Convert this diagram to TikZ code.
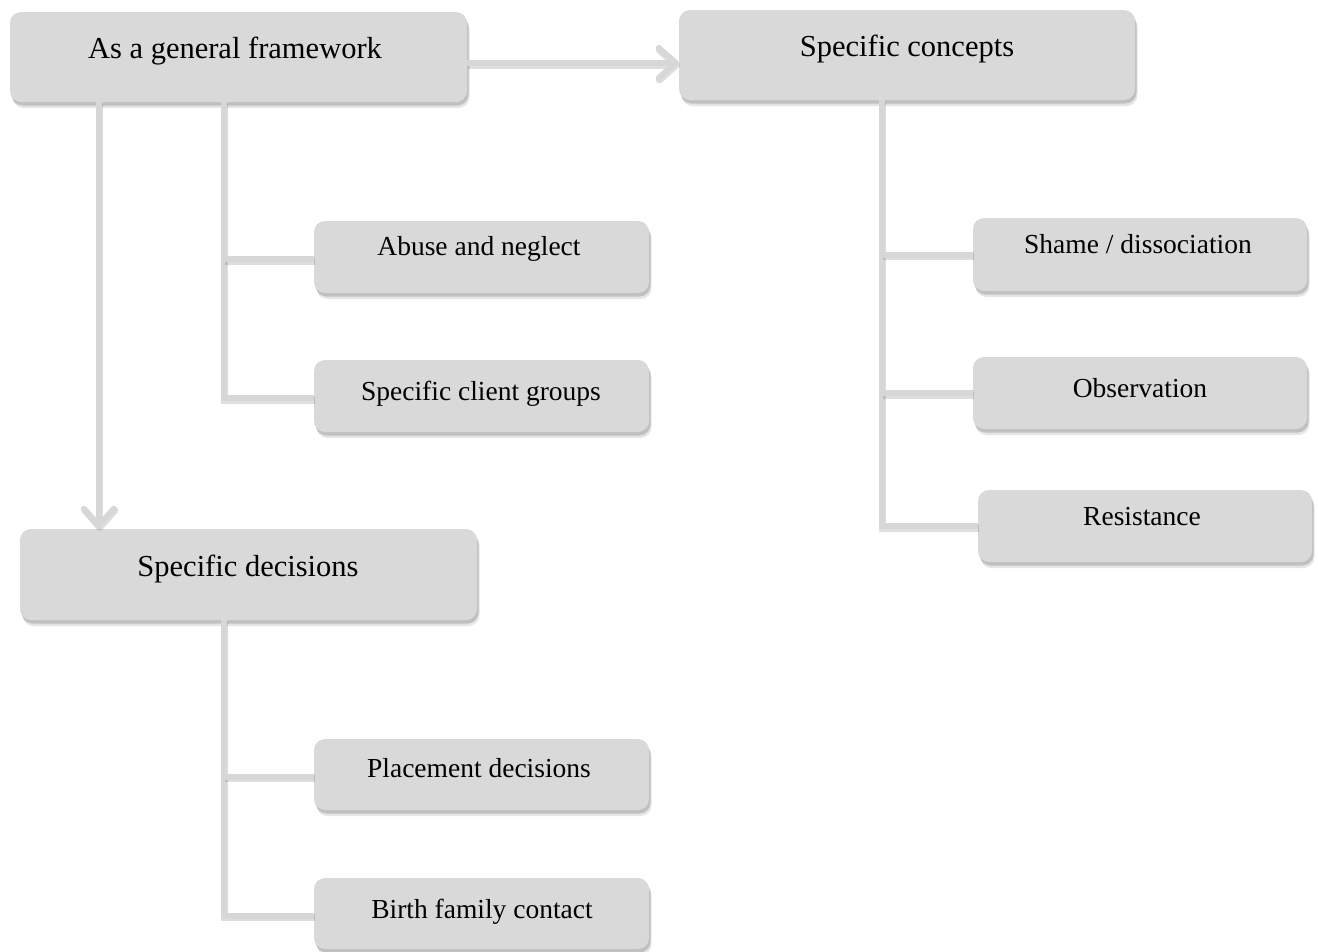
\documentclass[tikz,border=0pt]{standalone}
\usepackage{fontspec}
\setmainfont{Liberation Serif}
\usetikzlibrary{arrows.meta,shadows}
\definecolor{boxgray}{HTML}{D9D9D9}
\definecolor{linegray}{HTML}{D7D7D7}
\tikzset{
  box/.style={rounded corners=11pt, fill=boxgray, draw=none, inner sep=0pt,
    drop shadow={shadow xshift=2.5pt, shadow yshift=-6pt, opacity=0.10, fill=black},
    drop shadow={shadow xshift=1.5pt, shadow yshift=-3.5pt, opacity=0.16, fill=black}},
  bigtxt/.style={anchor=base, inner sep=0pt, font=\fontsize{30.5}{36}\selectfont},
  smalltxt/.style={anchor=base, inner sep=0pt, font=\fontsize{27.5}{33}\selectfont},
  conn/.style={line width=6pt, draw=linegray,
    preaction={draw=black, opacity=0.13, line width=7pt,
      transform canvas={xshift=1pt,yshift=-2pt}}},
  arr/.style={conn, -{Straight Barb[length=17pt,width=30pt,line cap=round,line join=round]}},
}
\begin{document}
\begin{tikzpicture}[x=1pt,y=-1pt]
\useasboundingbox (0,0) rectangle (1318,951);
% boxes
\node[box, minimum width=457pt, minimum height=90pt] (b1) at (238.5,57) {};
\node[box, minimum width=456pt, minimum height=90pt] (b2) at (907,55) {};
\node[box, minimum width=335pt, minimum height=72pt] (b3) at (481.5,257) {};
\node[box, minimum width=335pt, minimum height=72pt] (b4) at (481.5,396) {};
\node[box, minimum width=457pt, minimum height=91pt] (b5) at (248.5,574.5) {};
\node[box, minimum width=335pt, minimum height=71pt] (b6) at (481.5,774.5) {};
\node[box, minimum width=335pt, minimum height=71pt] (b7) at (481.5,913.5) {};
\node[box, minimum width=334pt, minimum height=73pt] (b8) at (1140,254.5) {};
\node[box, minimum width=334pt, minimum height=72pt] (b9) at (1140,393) {};
\node[box, minimum width=334pt, minimum height=72pt] (b10) at (1145,526) {};
% texts
\node[bigtxt] (t1) at (235,58) {As a general framework};
\node[bigtxt] (t2) at (907,56) {Specific concepts};
\node[smalltxt] (t3) at (479,255) {Abuse and neglect};
\node[smalltxt] (t4) at (481,400) {Specific client groups};
\node[bigtxt] (t5) at (248,576) {Specific decisions};
\node[smalltxt] (t6) at (479,777) {Placement decisions};
\node[smalltxt] (t7) at (482,918) {Birth family contact};
\node[smalltxt] (t8) at (1138,253) {Shame / dissociation};
\node[smalltxt] (t9) at (1140,397) {Observation};
\node[smalltxt] (t10) at (1142,525) {Resistance};
% arrows
\draw[arr] ([yshift=-6pt]b1.east) -- ([yshift=-6pt]b1.east -| b2.west);
\coordinate (d1) at ([xshift=89pt]b1.south west);
\draw[arr] (d1) -- (d1 |- b5.north);
% trees
\coordinate (r1) at ([xshift=214pt]b1.south west);
\coordinate (e3) at ([yshift=-2pt]b3.west);
\coordinate (e4) at ([yshift=-2pt]b4.west);
\draw[conn] (r1) |- (e4);
\draw[conn] (r1 |- e3) -- (e3);
\coordinate (r2) at ([xshift=203pt]b2.south west);
\draw[conn] (r2) |- (b10.west);
\draw[conn] (r2 |- b8.west) -- (b8.west);
\draw[conn] (r2 |- b9.west) -- (b9.west);
\coordinate (r3) at ([xshift=204pt]b5.south west);
\coordinate (e6) at ([yshift=-2pt]b6.west);
\coordinate (e7) at ([yshift=-2pt]b7.west);
\draw[conn] (r3) |- (e7);
\draw[conn] (r3 |- e6) -- (e6);
\end{tikzpicture}
\end{document}
